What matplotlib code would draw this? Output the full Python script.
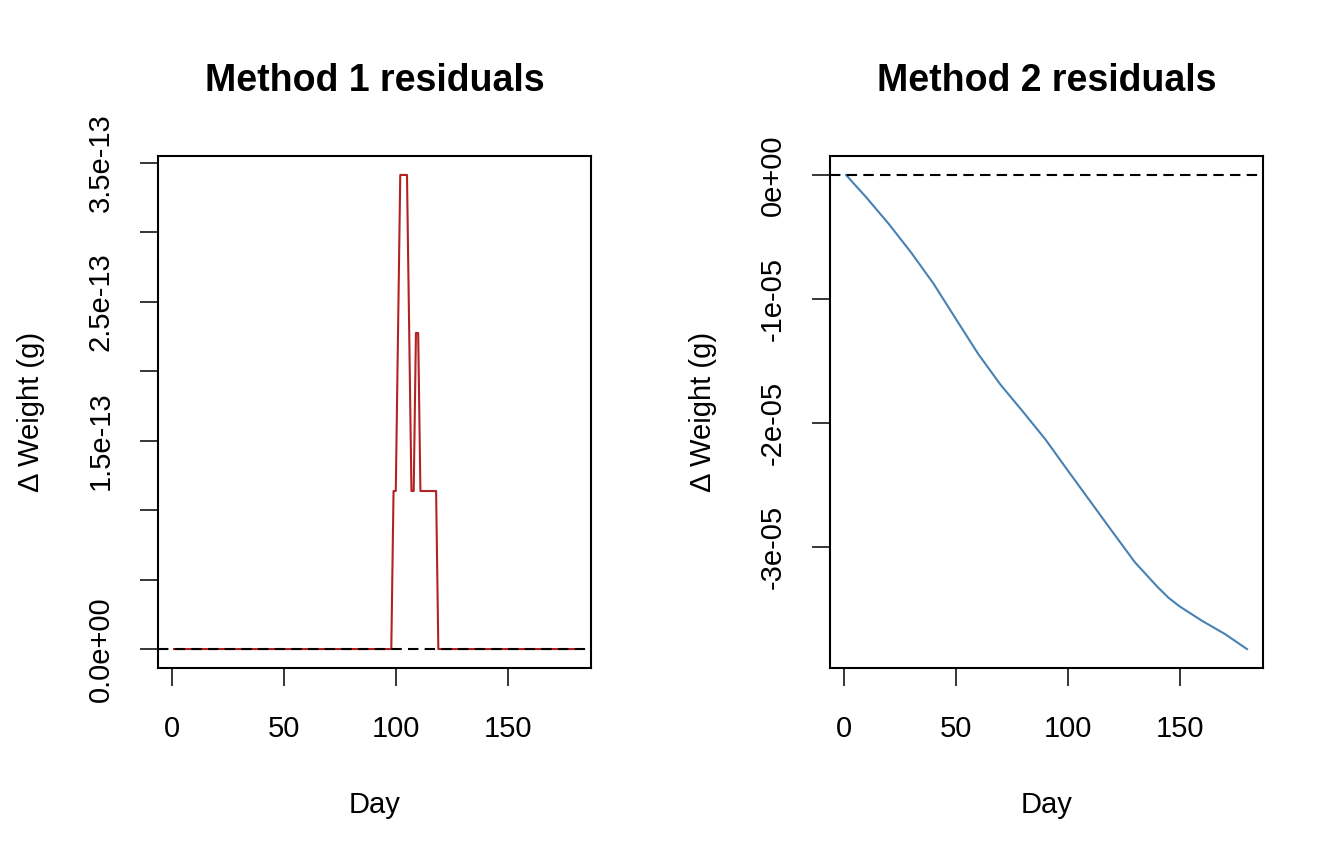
import matplotlib
matplotlib.use("Agg")
import matplotlib.pyplot as plt

plt.rcParams["font.family"] = ["Liberation Sans", "DejaVu Sans"]

# --- Method 1: residuals are exact multiples of 2^-43 (~1.137e-13) ---
m1_days = [1, 98, 99, 100, 101, 102, 103, 104, 105, 106, 107, 108, 109, 110, 111, 118, 119, 180]
m1_resid = [0.0, 0.0, 1.137e-13, 1.137e-13, 2.274e-13, 3.411e-13, 3.411e-13, 3.411e-13,
            3.411e-13, 2.274e-13, 1.137e-13, 1.137e-13, 2.274e-13, 2.274e-13, 1.137e-13,
            1.137e-13, 0.0, 0.0]
m1_ticks = [0, 0.5e-13, 1.0e-13, 1.5e-13, 2.0e-13, 2.5e-13, 3.0e-13, 3.5e-13]
m1_labels = ["0.0e+00", "", "", "1.5e-13", "", "2.5e-13", "", "3.5e-13"]

# --- Method 2: smooth drift ---
m2_days = [1, 10, 20, 30, 40, 50, 60, 70, 80, 90, 100, 110, 120, 130, 140, 145, 150, 160, 170, 180]
m2_resid = [0.0, -0.18e-5, -0.393e-5, -0.624e-5, -0.875e-5, -1.16e-5, -1.443e-5, -1.692e-5,
            -1.909e-5, -2.132e-5, -2.383e-5, -2.631e-5, -2.879e-5, -3.124e-5, -3.321e-5,
            -3.41e-5, -3.48e-5, -3.596e-5, -3.70e-5, -3.823e-5]
m2_ticks = [0, -1e-5, -2e-5, -3e-5]
m2_labels = ["0e+00", "-1e-05", "-2e-05", "-3e-05"]

day_ticks = [0, 50, 100, 150]

fig = plt.figure(figsize=(13.44, 8.64), dpi=100)
W, H = 1344, 864


def panel(left_px, days, resid, color, title, yticks, ylabels):
    ax = fig.add_axes([left_px / W, 1 - 668 / H, 433 / W, 512 / H])
    ax.plot(days, resid, color=color, lw=1.5)
    ax.axhline(0, color="black", lw=1.5, dashes=(5, 3))
    ax.margins(0.04)
    ax.set_xticks(day_ticks)
    ax.set_yticks(yticks, ylabels)
    ax.tick_params(direction="out", length=13, width=1.1, labelsize=21)
    ax.tick_params(axis="x", pad=21)
    ax.tick_params(axis="y", pad=18, labelrotation=90)
    for lab in ax.get_yticklabels():
        lab.set_va("center")
    for s in ax.spines.values():
        s.set_linewidth(1.5)
    ax.set_title(title, fontsize=27, fontweight="bold", pad=47)
    ax.set_xlabel("Day", fontsize=21)
    ax.xaxis.set_label_coords(0.5, -0.24)
    ax.set_ylabel("\u0394 Weight (g)", fontsize=21)
    ax.yaxis.set_label_coords(-0.26, 0.5)
    return ax


panel(158, m1_days, m1_resid, "#B22222", "Method 1 residuals", m1_ticks, m1_labels)
panel(830, m2_days, m2_resid, "#4682B4", "Method 2 residuals", m2_ticks, m2_labels)

fig.savefig("out.png", dpi=100)
